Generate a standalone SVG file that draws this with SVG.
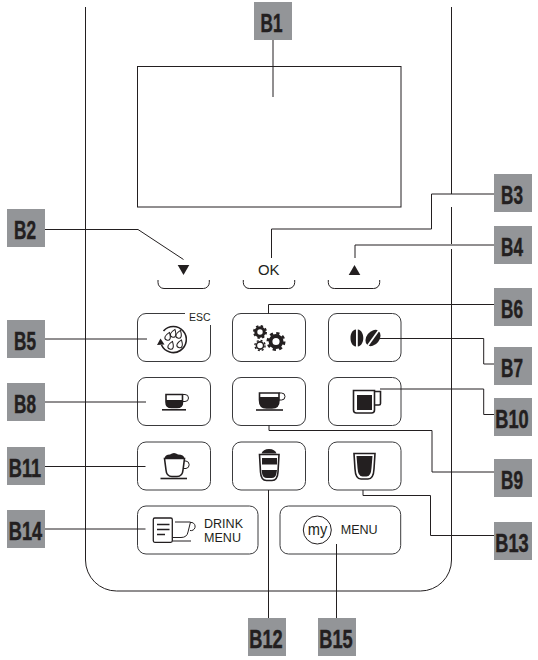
<svg xmlns="http://www.w3.org/2000/svg" width="538" height="660" viewBox="0 0 538 660">
<style>
.ln{fill:none;stroke:#231f20;stroke-width:1}
.th{fill:none;stroke:#231f20;stroke-width:1.6}
.fl{fill:#231f20;stroke:none}
.btn{fill:none;stroke:#3a3a3c;stroke-width:1}
.box{fill:#939598}
.lab{font-family:"Liberation Sans",Arial,sans-serif;font-weight:700;font-size:26px;fill:#231f20;stroke:#231f20;stroke-width:.5;text-anchor:middle}
.t{font-family:"Liberation Sans",Arial,sans-serif;fill:#231f20}
</style>
<defs>
<path id="drop" d="M0 -4.300C1.900 -1.700 2.700 -.4 2.700 1.100A2.700 2.700 0 0 1 -2.700 1.100C-2.700 -.4 -1.900 -1.700 0 -4.300Z"/>
</defs>
<g id="body">
<path class="ln" d="M85.500 7V560A31 31 0 0 0 116.500 591H420.500A31 31 0 0 0 451.500 560V249M451.500 244V207M451.500 194V7"/>
</g>
<g id="screen"><rect class="ln" x="137.500" y="66.500" width="263.500" height="140.500"/></g>
<g id="key-down">
<path class="fl" d="M177.700 265H189.300L183.500 275Z"/>
<path class="ln" d="M158 280V282.500A6 6 0 0 0 164 288.500H203.300A6 6 0 0 0 209.300 282.500V280"/>
</g>
<g id="key-ok">
<text class="t" x="258" y="275" font-size="14" textLength="21.500" lengthAdjust="spacingAndGlyphs">OK</text>
<path class="ln" d="M243.300 280V282.500A6 6 0 0 0 249.300 288.500H288.700A6 6 0 0 0 294.700 282.500V280"/>
</g>
<g id="key-up">
<path class="fl" d="M348.700 275H360.300L354.500 265Z"/>
<path class="ln" d="M328.300 280V282.500A6 6 0 0 0 334.300 288.500H373.700A6 6 0 0 0 379.700 282.500V280"/>
</g>
<g id="key-esc">
<path class="btn" d="M185 313.500H146A8.500 8.500 0 0 0 137.500 322V353A8.500 8.500 0 0 0 146 361.500H202A8.500 8.500 0 0 0 210.500 353V325"/>
<text class="t" x="189" y="321.300" font-size="10" textLength="21.500" lengthAdjust="spacingAndGlyphs">ESC</text>
<path class="th" d="M163.500 331A13 13 0 1 1 161.500 345"/>
<path class="fl" d="M160.500 338.500L157 345L164.500 344.500Z"/>
<g fill="#fff" stroke="#231f20" stroke-width="1">
<use href="#drop" x="168" y="336.500" transform="rotate(20 168 336.500)"/>
<use href="#drop" x="173.500" y="333.500" transform="rotate(20 173.500 333.500)"/>
<use href="#drop" x="171" y="345.500" transform="rotate(20 171 345.500)"/>
<use href="#drop" x="179" y="334.500" transform="rotate(20 179 334.500)"/>
<use href="#drop" x="180" y="344" transform="rotate(20 180 344)"/>
</g>
</g>
<g id="key-settings">
<rect class="btn" x="232.500" y="313.500" width="73" height="48" rx="8.500"/>
<circle cx="260" cy="332" r="4.200" fill="none" stroke="#231f20" stroke-width="3"/>
<circle cx="260" cy="332" r="6" fill="none" stroke="#231f20" stroke-width="2" stroke-dasharray="2.360 2.350"/>
<circle cx="260" cy="345.500" r="3.600" fill="none" stroke="#231f20" stroke-width="1.600"/>
<circle cx="260" cy="345.500" r="5.100" fill="none" stroke="#231f20" stroke-width="1.400" stroke-dasharray="2 2"/>
<circle cx="276" cy="341.500" r="5.500" fill="none" stroke="#231f20" stroke-width="3.800"/>
<circle cx="276" cy="341.500" r="8.200" fill="none" stroke="#231f20" stroke-width="2.600" stroke-dasharray="3.220 3.220"/>
</g>
<g id="key-beans">
<rect class="btn" x="328.500" y="313.500" width="72.500" height="48" rx="8.500"/>
<path class="fl" d="M356 329.500C352 330 350.500 334 350.500 338S352 346 356 346.500ZM357.800 329.500C361.500 330 363.300 334 363.300 338S361.500 346 357.800 346.500Z"/>
<ellipse class="fl" cx="373" cy="338" rx="6.500" ry="9" transform="rotate(38 373 338)"/>
<path d="M379 330L367.500 346" stroke="#fff" stroke-width="1.800" fill="none"/>
</g>
<g id="key-cup-small">
<rect class="btn" x="137.500" y="377.500" width="73" height="48" rx="8.500"/>
<path class="th" d="M166 394.500H182.500V402Q182.500 407.500 177 407.500H171.500Q166 407.500 166 402Z"/>
<path class="fl" d="M166 400H182.500V402Q182.500 407.500 177 407.500H171.500Q166 407.500 166 402Z"/>
<path class="ln" d="M182.500 394.500H185A3.300 3.300 0 0 1 185 401.500H182"/>
<path class="th" d="M162 409.800H186"/>
</g>
<g id="key-cup-medium">
<rect class="btn" x="232.500" y="377.500" width="73" height="48" rx="8.500"/>
<path class="th" d="M259.500 393H279V400Q279 408 272 408H266.500Q259.500 408 259.500 400Z"/>
<path class="fl" d="M259.500 397H279V400Q279 408 272 408H266.500Q259.500 408 259.500 400Z"/>
<path class="ln" d="M279 393H281.500A3.300 3.300 0 0 1 281.500 400H278.500"/>
<path class="th" d="M256 410H283"/>
</g>
<g id="key-mug">
<rect class="btn" x="328.500" y="377.500" width="72.500" height="48" rx="8.500"/>
<path class="th" d="M353.500 390.500H374.500V410Q374.500 413 371.500 413H356.500Q353.500 413 353.500 410Z"/>
<rect class="fl" x="357" y="395" width="15" height="15"/>
<path class="th" d="M374.500 391.500H380.500V403.500Q380.500 405 379 405H374.500"/>
</g>
<g id="key-cappuccino">
<rect class="btn" x="137.500" y="442" width="73" height="48" rx="8.500"/>
<path class="fl" d="M164.500 458.500Q165 454.500 170 454.500Q174 451.500 178 454.500Q184 454.500 184.500 458.500Z"/>
<path class="th" d="M164.500 458.500L166 470Q166.500 476.500 172 476.500H177Q182.500 476.500 183 470L184.500 458.500Z"/>
<path class="ln" d="M184 461H186A3.800 3.800 0 0 1 186 468.500H183"/>
<path class="th" d="M160.500 478.500H187"/>
</g>
<g id="key-latte">
<rect class="btn" x="232.500" y="442" width="73" height="48" rx="8.500"/>
<path class="fl" d="M261.500 453.500Q263 449 269 449Q275 449 276.500 453.500Z"/>
<path class="th" d="M259.500 454.500H279L278 472Q277.500 480.500 272 480.500H266.500Q261 480.500 260.500 472Z"/>
<rect class="fl" x="262" y="458" width="15" height="6.500"/>
<path class="fl" d="M261.700 470H277L276.500 473Q276 478 271.500 478H267Q262.500 478 262 473Z"/>
</g>
<g id="key-glass">
<rect class="btn" x="328.500" y="442" width="72.500" height="48" rx="8.500"/>
<path class="th" d="M354 453.500H375L374 469Q373.500 479 368 479H361Q355.500 479 355 469Z"/>
<path class="fl" d="M356.500 456H372.500L371.500 468Q371 476.500 366.500 476.500H362.500Q358 476.500 357.500 468Z"/>
</g>
<g id="key-drink-menu">
<rect class="btn" x="137.500" y="506" width="120.500" height="48" rx="8.500"/>
<rect x="153.300" y="518" width="19" height="24.300" rx="1.500" fill="none" stroke="#231f20" stroke-width="1.300"/>
<path d="M157 524.500H169.500M157 529.500H169.500M157 534.500H165" fill="none" stroke="#231f20" stroke-width="1.500"/>
<path class="ln" d="M175 522H190.500L188 532Q187 537.500 181 537.500H172.500"/>
<path class="ln" d="M190.500 522.500H192A3.300 3.300 0 0 1 190 530.500"/>
<path class="ln" d="M172.500 541H191"/>
<text class="t" x="204" y="528.300" font-size="12" textLength="39" lengthAdjust="spacingAndGlyphs">DRINK</text>
<text class="t" x="204" y="541.700" font-size="12" textLength="37" lengthAdjust="spacingAndGlyphs">MENU</text>
</g>
<g id="key-my-menu">
<rect class="btn" x="280" y="506" width="120.700" height="48" rx="8.500"/>
<circle cx="317.300" cy="530" r="14" fill="none" stroke="#231f20" stroke-width="1"/>
<text class="t" x="307.800" y="534.500" font-size="17" textLength="19.500" lengthAdjust="spacingAndGlyphs">my</text>
<text class="t" x="340.700" y="533.700" font-size="12" textLength="37" lengthAdjust="spacingAndGlyphs">MENU</text>
</g>
<g id="connectors">
<path class="ln" d="M273 40V97"/>
<path class="ln" d="M45 229.500H138L183.500 259.500"/>
<path class="ln" d="M494 194H431.500V229H271.500V258"/>
<path class="ln" d="M494 245H355V258"/>
<path class="ln" d="M45 339H147"/>
<path class="ln" d="M494 304.500H268.500V313.500"/>
<path class="ln" d="M380 338.500H483.700V364H494"/>
<path class="ln" d="M45 402H146"/>
<path class="ln" d="M269 425.500V430.500H432V472H494"/>
<path class="ln" d="M380 389H483.700V414.500H494"/>
<path class="ln" d="M45 466.500H145.500"/>
<path class="ln" d="M268.500 490V618"/>
<path class="ln" d="M363 490V495.500H430.500V535.500H494"/>
<path class="ln" d="M45 529H145.500"/>
<path class="ln" d="M336.500 544V618"/>
</g>
<g id="B1"><rect class="box" x="254" y="2" width="38" height="38"/><text class="lab" transform="translate(271.500 31.500) scale(.66 1)">B1</text></g>
<g id="B2"><rect class="box" x="7" y="209" width="38" height="38"/><text class="lab" transform="translate(25 238.500) scale(.66 1)">B2</text></g>
<g id="B3"><rect class="box" x="494" y="174" width="38" height="38"/><text class="lab" transform="translate(512 203.500) scale(.66 1)">B3</text></g>
<g id="B4"><rect class="box" x="494" y="226" width="38" height="38"/><text class="lab" transform="translate(512 255.500) scale(.66 1)">B4</text></g>
<g id="B5"><rect class="box" x="7" y="320" width="38" height="38"/><text class="lab" transform="translate(25 349.500) scale(.66 1)">B5</text></g>
<g id="B6"><rect class="box" x="494" y="288" width="38" height="38"/><text class="lab" transform="translate(512 317.500) scale(.66 1)">B6</text></g>
<g id="B7"><rect class="box" x="494" y="347" width="38" height="38"/><text class="lab" transform="translate(512 376.500) scale(.66 1)">B7</text></g>
<g id="B8"><rect class="box" x="7" y="383" width="38" height="38"/><text class="lab" transform="translate(25 412.500) scale(.66 1)">B8</text></g>
<g id="B9"><rect class="box" x="494" y="459" width="38" height="38"/><text class="lab" transform="translate(512 488.500) scale(.66 1)">B9</text></g>
<g id="B10"><rect class="box" x="494" y="398" width="38" height="38"/><text class="lab" transform="translate(512 427.500) scale(.7 1)">B10</text></g>
<g id="B11"><rect class="box" x="7" y="447" width="38" height="38"/><text class="lab" transform="translate(25 476.500) scale(.7 1)">B11</text></g>
<g id="B12"><rect class="box" x="248" y="618" width="38" height="38"/><text class="lab" transform="translate(266 647.500) scale(.7 1)">B12</text></g>
<g id="B13"><rect class="box" x="494" y="522" width="38" height="38"/><text class="lab" transform="translate(512 551.500) scale(.7 1)">B13</text></g>
<g id="B14"><rect class="box" x="7" y="510" width="38" height="38"/><text class="lab" transform="translate(25.500 539.500) scale(.7 1)">B14</text></g>
<g id="B15"><rect class="box" x="318" y="618" width="38" height="38"/><text class="lab" transform="translate(336 647.500) scale(.7 1)">B15</text></g>
</svg>
